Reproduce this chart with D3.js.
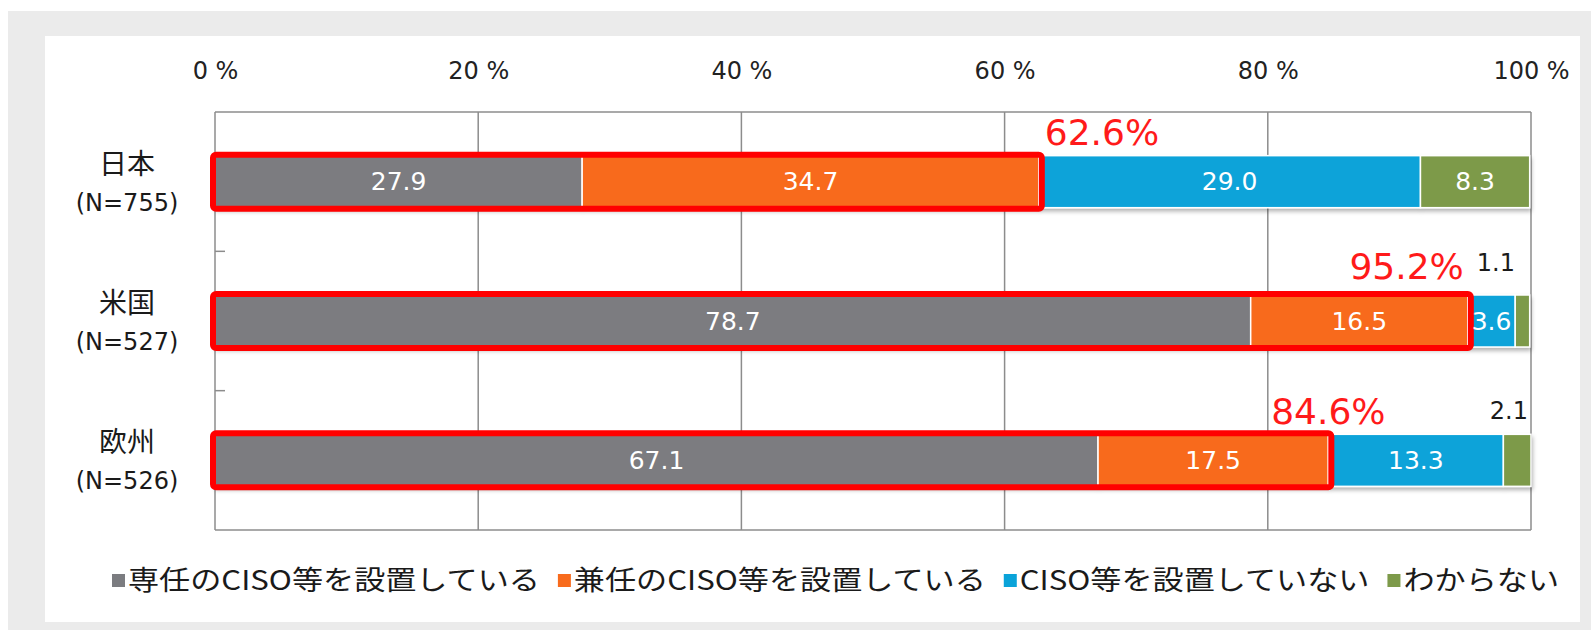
<!DOCTYPE html>
<html><head><meta charset="utf-8">
<script src="https://cdn.jsdelivr.net/npm/d3@7/dist/d3.min.js"></script>
<style>html,body{margin:0;padding:0;background:#fff;}svg{display:block;}</style>
</head><body>
<svg id="chart" width="1591" height="630"></svg>
<script>
// ---- data ----
const categories = ["日本", "米国", "欧州"];
const sampleSizes = ["(N=755)", "(N=527)", "(N=526)"];
const seriesNames = ["専任のCISO等を設置している", "兼任のCISO等を設置している", "CISO等を設置していない", "わからない"];
const dedicated = [27.9, 78.7, 67.1];
const concurrent = [34.7, 16.5, 17.5];
const notSet = [29.0, 3.6, 13.3];
const unknown = [8.3, 1.1, 2.1];
const highlightTotals = [62.6, 95.2, 84.6];
const tickValues = [0, 20, 40, 60, 80, 100];

const colors = ["#7b7c80", "#f86b1d", "#0aa3d9", "#7d9a4a"];
const seriesValues = [dedicated, concurrent, notSet, unknown];

const svg = d3.select("#chart");
const W = 1591, H = 630;
const latin = "'DejaVu Sans','Noto Sans CJK JP',sans-serif";
const cjk = "'Noto Sans CJK JP',sans-serif";

// background frame
svg.append("rect").attr("x", 0).attr("y", 0).attr("width", W).attr("height", H).attr("fill", "#fff");
svg.append("rect").attr("x", 8).attr("y", 11).attr("width", W - 8).attr("height", H - 11).attr("fill", "#ebebeb");
svg.append("rect").attr("x", 45).attr("y", 36).attr("width", 1580 - 45).attr("height", 622 - 36).attr("fill", "#fff");

const defs = svg.append("defs");
const f = defs.append("filter").attr("id", "shadow").attr("x", "-5%").attr("y", "-20%").attr("width", "110%").attr("height", "160%");
f.append("feDropShadow").attr("dx", 1).attr("dy", 3).attr("stdDeviation", 2).attr("flood-color", "#000").attr("flood-opacity", 0.3);

const x = d3.scaleLinear().domain([0, 100]).range([215, 1531]);
const y = d3.scaleBand().domain(categories).range([112, 530]).padding(0);
const barH = 52;
const barY = c => y(c) + (y.bandwidth() - barH) / 2;

// gridlines
svg.append("g").selectAll("line").data(tickValues).join("line")
  .attr("x1", d => x(d)).attr("x2", d => x(d))
  .attr("y1", y.range()[0]).attr("y2", y.range()[1])
  .attr("stroke", "#8c8c8c").attr("stroke-width", 1.5);
svg.append("line").attr("x1", x(0)).attr("x2", x(100)).attr("y1", 112).attr("y2", 112)
  .attr("stroke", "#8c8c8c").attr("stroke-width", 1.5);
svg.append("line").attr("x1", x(0)).attr("x2", x(100)).attr("y1", 530).attr("y2", 530)
  .attr("stroke", "#8c8c8c").attr("stroke-width", 1.5);
// category boundary ticks
svg.append("g").selectAll("line").data(categories.slice(1)).join("line")
  .attr("x1", x(0)).attr("x2", x(0) + 10)
  .attr("y1", d => y(d)).attr("y2", d => y(d))
  .attr("stroke", "#8c8c8c").attr("stroke-width", 1.5);

// top axis labels
const axis = d3.axisTop(x).tickValues(tickValues).tickFormat(d => d + " %").tickSize(0).tickPadding(33);
const ag = svg.append("g").attr("transform", "translate(0,112)").call(axis);
ag.select(".domain").remove();
ag.selectAll("text").attr("font-family", latin).attr("font-size", 24).attr("fill", "#222");

// category labels
const cl = svg.append("g");
categories.forEach((c, i) => {
  const cy = y(c) + y.bandwidth() / 2;
  cl.append("text").attr("x", 127).attr("y", cy - 20).attr("text-anchor", "middle")
    .attr("dominant-baseline", "central").attr("font-family", cjk).attr("font-size", 28).attr("fill", "#1a1a1a").text(c);
  cl.append("text").attr("x", 127).attr("y", cy + 21).attr("text-anchor", "middle")
    .attr("dominant-baseline", "central").attr("font-family", latin).attr("font-size", 24).attr("fill", "#1a1a1a").text(sampleSizes[i]);
});

// stacked data
const rows = categories.map((c, i) => {
  let acc = 0;
  return seriesValues.map((s, k) => { const d = { c, i, k, v: s[i], x0: acc, x1: acc + s[i] }; acc += s[i]; return d; });
});

const bars = svg.append("g").attr("filter", "url(#shadow)");
rows.forEach(r => {
  bars.selectAll(null).data(r).join("rect")
    .attr("x", d => x(d.x0)).attr("width", d => x(d.x1) - x(d.x0))
    .attr("y", d => barY(d.c)).attr("height", barH)
    .attr("fill", d => colors[d.k]).attr("stroke", "#fff").attr("stroke-width", 1.5);
});

// highlight boxes
svg.append("g").selectAll("rect").data(categories).join("rect")
  .attr("x", x(0) - 2).attr("width", (d, i) => x(highlightTotals[i]) - x(0) + 5)
  .attr("y", d => barY(d) - 1).attr("height", barH + 2)
  .attr("rx", 3).attr("fill", "none").attr("stroke", "#ff0000").attr("stroke-width", 6);

// value labels
const vl = svg.append("g");
rows.flat().forEach(d => {
  const inside = d.v >= 3;
  if (inside) {
    vl.append("text").attr("x", (x(d.x0) + x(d.x1)) / 2).attr("y", barY(d.c) + barH / 2)
      .attr("text-anchor", "middle").attr("dominant-baseline", "central")
      .attr("font-family", latin).attr("font-size", 25).attr("fill", "#fff").text(d.v.toFixed(1));
  } else {
    const dx = d.i === 1 ? -16 : -3;
    const dy = d.i === 1 ? -32 : -23;
    vl.append("text").attr("x", x(100) + dx).attr("y", barY(d.c) + dy)
      .attr("text-anchor", "end").attr("dominant-baseline", "central")
      .attr("font-family", latin).attr("font-size", 24).attr("fill", "#1a1a1a").text(d.v.toFixed(1));
  }
});

// highlight totals
const anchors = ["start", "end", "middle"];
const hdx = [6, -4, 0];
const hdy = [-23, -29, -23];
svg.append("g").selectAll("text").data(categories).join("text")
  .attr("x", (d, i) => x(highlightTotals[i]) + hdx[i])
  .attr("y", (d, i) => barY(d) + hdy[i])
  .attr("text-anchor", (d, i) => anchors[i]).attr("dominant-baseline", "central")
  .attr("font-family", latin).attr("font-size", 36).attr("fill", "#ff1a1a")
  .text((d, i) => highlightTotals[i].toFixed(1) + "%");

// legend
const lg = svg.append("g");
const legTexts = seriesNames.map(n => lg.append("text").attr("font-family", cjk).attr("font-size", 27).attr("fill", "#1a1a1a").text(n));
const nat = legTexts.map(t => t.node().getComputedTextLength());
const sq = 13, gapSq = 3, gapItem = 18, lx0 = 112, lx1 = 1559;
const avail = (lx1 - lx0) - seriesNames.length * (sq + gapSq) - (seriesNames.length - 1) * gapItem;
const k = avail / d3.sum(nat);
let cx = lx0;
legTexts.forEach((t, i) => {
  lg.append("rect").attr("x", cx).attr("y", 574).attr("width", sq).attr("height", sq).attr("fill", colors[i]);
  cx += sq + gapSq;
  const w = nat[i] * k;
  t.attr("x", cx).attr("y", 590).attr("textLength", w).attr("lengthAdjust", "spacingAndGlyphs");
  cx += w + gapItem;
});
</script>
</body></html>
